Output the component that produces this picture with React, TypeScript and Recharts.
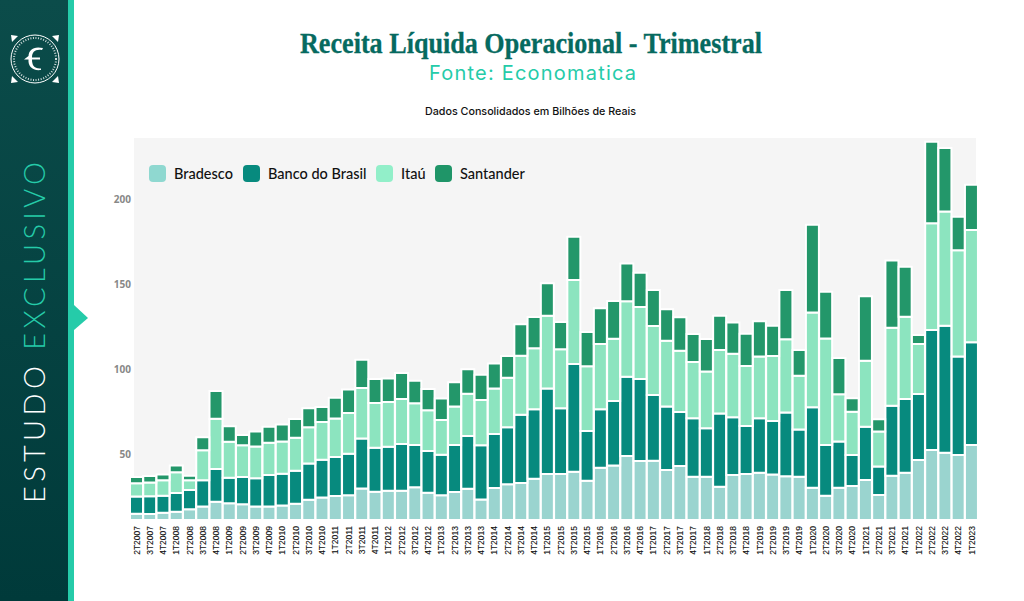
import React from "react";
import { BarChart, Bar, XAxis, YAxis, Legend } from "recharts";

const quarters = [
  "2T2007","3T2007","4T2007","1T2008","2T2008","3T2008","4T2008","1T2009","2T2009","3T2009","4T2009",
  "1T2010","2T2010","3T2010","4T2010","1T2011","2T2011","3T2011","4T2011","1T2012","2T2012","3T2012","4T2012",
  "1T2013","2T2013","3T2013","4T2013","1T2014","2T2014","3T2014","4T2014","1T2015","2T2015","3T2015","4T2015",
  "1T2016","2T2016","3T2016","4T2016","1T2017","2T2017","3T2017","4T2017","1T2018","2T2018","3T2018","4T2018",
  "1T2019","2T2019","3T2019","4T2019","1T2020","2T2020","3T2020","4T2020","1T2021","2T2021","3T2021","4T2021",
  "1T2022","2T2022","3T2022","4T2022","1T2023",
];
const bradesco = [14.9,14.7,15.5,16,17.5,19.1,21.9,21,20.5,19.2,19.1,19.8,20.8,23.1,24.4,25.3,25.7,29.8,27.8,28.4,28.4,30.4,27.3,25.7,27.6,29.6,23.3,30,32.3,32.9,35.5,38.2,38.2,39.6,34.3,41.9,43.3,48.8,45.9,46.1,40.6,42.9,36.7,36.7,30.8,37.7,38.2,39,38,37,36.7,30.2,25.5,30.2,31.2,34.7,25.9,37.3,39,46.5,52.4,50.8,49.4,55.3];
const bancoDoBrasil = [10.1,10.5,10,11.1,11.3,15.5,19.3,15.1,16,16.6,18.6,18.6,19.4,21.3,22.3,22.9,24.5,29.4,25.9,25.9,27.5,24.9,24.5,23.9,27.7,31,31.8,31.8,33.4,40.2,40.8,50.4,38.7,63.4,29.2,34.4,37.9,46.7,48.2,38.6,37.3,31.8,34.3,28.4,43.1,33.9,28.3,32,31.4,37.5,27.8,47.3,29.8,27.1,18.2,31.4,16.7,41.1,43.4,38.8,70.6,74.7,57.9,60.4];
const itau = [7.8,8,9.1,12.2,5.8,17.6,29.6,21.1,18.6,18.7,18.9,18.9,19.4,21.3,22.1,22.7,23.9,29.6,26.3,26.3,26.4,24.5,23.9,20.4,22.7,24.9,26.7,26.8,29.2,34.7,35.9,42.8,34.7,49.4,38.1,38.4,36.6,44.3,42.4,40.6,38.8,36.1,33.1,33.5,37.3,37.4,35.3,36.3,38.3,43,31.6,55.8,62.6,27.8,25.5,38.8,20.7,45.9,48.4,29.4,62.7,67.1,62.5,66.1];
const santander = [3.7,3.9,3.3,4,2.7,7.6,16.3,9.1,6.1,8.8,9.5,10,11,11.2,8.8,12.2,13.9,16.7,14.1,13.9,15.3,13.3,12.5,12.7,14.2,14.3,14.9,14.7,12.8,18.5,18.4,19,16,25.4,20.2,21,22.2,22.2,20.2,21.2,18.4,19.6,16.5,19.1,20.2,18.3,19,20.8,17.8,29,15.1,51.6,27.6,21.4,7.9,37.9,7.1,39.6,29.4,5.3,48,37.4,19.8,26.6];
const yTicks = [50, 100, 150, 200];
const seriesNames = ["Bradesco", "Banco do Brasil", "Itaú", "Santander"];
const seriesColors = ["#9AD4CF", "#078A7E", "#8CE4BF", "#23976A"];
const legendColors = ["#8FD8D0", "#078A7E", "#92EFC9", "#1F9568"];
const legendWidths = [94, 133, 59, 100];

const rows = quarters.map((q, i) => ({
  q,
  [seriesNames[0]]: bradesco[i],
  [seriesNames[1]]: bancoDoBrasil[i],
  [seriesNames[2]]: itau[i],
  [seriesNames[3]]: santander[i],
}));

const XTick = ({ x, payload }: any) => (
  <text
    x={x}
    y={526}
    transform={`rotate(-90 ${x} 526)`}
    textAnchor="end"
    dominantBaseline="central"
    fontFamily="Liberation Sans"
    fontSize={8.5}
    fill="#111"
    stroke="#111"
    strokeWidth={0.12}
  >
    {payload.value}
  </text>
);

const LegendBox = () => (
  <div style={{ display: "flex", fontFamily: "Lato, Inter, sans-serif", fontSize: 14.5, fontWeight: 500, color: "#111" }}>
    {seriesNames.map((n, i) => (
      <div key={n} style={{ width: legendWidths[i], display: "flex", alignItems: "center", height: 18 }}>
        <span style={{ width: 17, height: 17, borderRadius: 4, background: legendColors[i], marginRight: 8, flex: "none" }} />
        <span style={{ whiteSpace: "nowrap" }}>{n}</span>
      </div>
    ))}
  </div>
);

const Sidebar = () => (
  <svg width={95} height={601} style={{ position: "absolute", left: 0, top: 0 }}>
    <defs>
      <linearGradient id="side" x1="0" y1="0" x2="0" y2="1">
        <stop offset="0" stopColor="#0B4C4A" />
        <stop offset="1" stopColor="#003A3A" />
      </linearGradient>
    </defs>
    <rect x={0} y={0} width={68} height={601} fill="url(#side)" />
    <rect x={68} y={0} width={6} height={601} fill="#25CBA9" />
    <polygon points="74,305 88,318 74,330" fill="#25CBA9" />
    <circle cx={35} cy={59} r={24} fill="none" stroke="#fff" strokeWidth={1} />
    <circle cx={35} cy={59} r={21} fill="none" stroke="#fff" strokeWidth={2} strokeDasharray="1 1.6" opacity={0.8} />
    <polygon points="11,35 18,36 12,42" fill="#fff" />
    <polygon points="59,35 52,36 58,42" fill="#fff" />
    <polygon points="11,83 18,82 12,76" fill="#fff" />
    <polygon points="59,83 52,82 58,76" fill="#fff" />
    <path d="M43 48 C33 46 29 50 28.5 56 L24 59.5 L28.5 59.5 C28 66 32 71 41 70 L41 68.5 C34 69 32 65 32 59.5 L40 59.5 L40 57.5 L32 57.5 C32 52 35 49 42 50 Z" fill="#fff" />
    <text
      x={45}
      y={503}
      transform="rotate(-90 45 503)"
      fontFamily="Lato, Open Sans, sans-serif"
      fontWeight={300}
      fontSize={29}
      textLength={341}
      lengthAdjust="spacing"
      fill="#fff"
    >
      ESTUDO <tspan fill="#25CBA9">EXCLUSIVO</tspan>
    </text>
  </svg>
);

export default function App() {
  React.useEffect(() => {
    document.body.style.margin = "0";
  }, []);
  return (
    <div style={{ position: "absolute", left: 0, top: 0, width: 1024, height: 601, background: "#fff", overflow: "hidden" }}>
      <Sidebar />
      <div style={{ position: "absolute", left: 134, top: 138, width: 842, height: 382, background: "#F5F5F5" }} />
      <svg width={1024} height={125} style={{ position: "absolute", left: 0, top: 0 }}>
        <text
          x={300}
          y={53}
          fontFamily="Liberation Serif"
          fontWeight={700}
          fontSize={30}
          textLength={462}
          lengthAdjust="spacingAndGlyphs"
          fill="#066A60"
          stroke="#066A60"
          strokeWidth={0.3}
        >
          Receita Líquida Operacional - Trimestral
        </text>
        <text
          x={429}
          y={80}
          fontFamily="Inter, Roboto, sans-serif"
          fontSize={20}
          textLength={207}
          lengthAdjust="spacing"
          fill="#25CBA9"
        >
          Fonte: Economatica
        </text>
        <text
          x={425}
          y={115}
          fontFamily="Inter, Roboto, sans-serif"
          fontWeight={500}
          fontSize={10.8}
          textLength={211}
          lengthAdjust="spacingAndGlyphs"
          fill="#111"
        >
          Dados Consolidados em Bilhões de Reais
        </text>
      </svg>
      <div style={{ position: "absolute", left: 0, top: 0 }}>
        <BarChart
          width={1024}
          height={601}
          data={rows}
          barCategoryGap={0}
          margin={{ top: 139, left: 104, right: 48, bottom: 41 }}
        >
          <XAxis
            dataKey="q"
            interval={0}
            height={40}
            axisLine={false}
            tickLine={false}
            tick={<XTick />}
            padding={{ left: -4, right: -2.2 }}
            allowDataOverflow
          />
          <YAxis
            width={30}
            domain={[11.2, 235.3]}
            ticks={yTicks}
            allowDataOverflow
            axisLine={false}
            tickLine={false}
            tickSize={0}
            tickMargin={3}
            tick={{ fontFamily: "Open Sans, sans-serif", fontSize: 10, fontWeight: 700, fill: "#888" }}
          />
          <Legend
            verticalAlign="middle"
            content={<LegendBox />}
            wrapperStyle={{ position: "absolute", left: 149, top: 164, width: 400, bottom: "auto" }}
          />
          {seriesNames.map((n, i) => (
            <Bar
              key={n}
              dataKey={n}
              name={n}
              stackId="a"
              fill={seriesColors[i]}
              stroke="#fff"
              strokeWidth={2}
              barSize={13}
              isAnimationActive={false}
            />
          ))}
        </BarChart>
      </div>
    </div>
  );
}
